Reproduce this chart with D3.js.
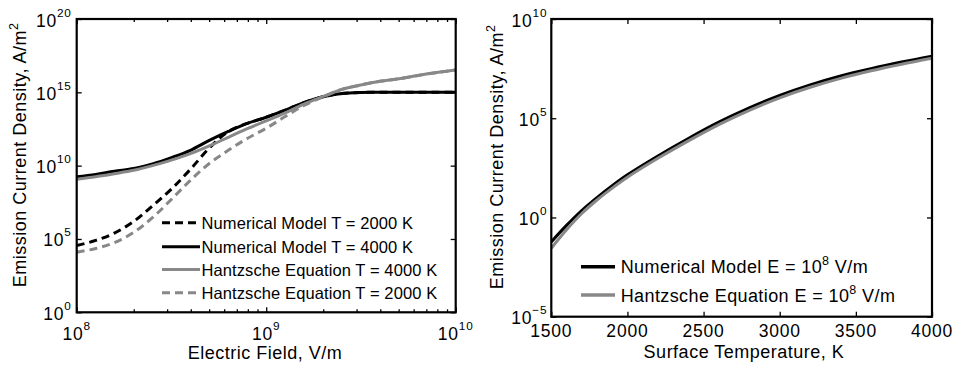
<!DOCTYPE html>
<html><head><meta charset="utf-8">
<script src="https://cdn.jsdelivr.net/npm/d3@7"></script>
<style>
body{margin:0;background:#fff;}
text{font-family:Arial,"Liberation Sans",Helvetica,sans-serif;fill:#000;}
</style>
</head><body>
<svg id="chart" width="956" height="366"></svg>
<script>
// ---------- Left panel data: emission current density vs electric field ----------
const fieldValues = [1e8, 1.26e8, 1.58e8, 2e8, 2.51e8, 3.16e8, 3.98e8, 5.01e8, 6.31e8, 7.94e8,
  1e9, 1.26e9, 1.58e9, 2e9, 2.51e9, 3.16e9, 3.98e9, 5.01e9, 6.31e9, 7.94e9, 1e10];
const numerical2000 = [3.55e4, 7.94e4, 2.51e5, 1.58e6, 1.78e7, 2.51e8, 5.62e9, 1.58e11, 2.14e12, 7.59e12,
  2.0e13, 6.03e13, 2.0e14, 5.0e14, 8.3e14, 9.8e14, 1e15, 1e15, 1e15, 1e15, 1e15];
const numerical4000 = [1.74e9, 2.51e9, 4.17e9, 6.31e9, 1.32e10, 3.55e10, 1.12e11, 5.25e11, 2.14e12, 7.59e12,
  2.0e13, 6.03e13, 2.0e14, 5.0e14, 8.3e14, 9.8e14, 1e15, 1e15, 1e15, 1e15, 1e15];
const hantzsche4000 = [1.2e9, 1.78e9, 2.82e9, 4.79e9, 1.0e10, 2.4e10, 6.61e10, 2.24e11, 8.51e11, 3.31e12,
  1.12e13, 3.98e13, 1.58e14, 5.25e14, 1.58e15, 3.16e15, 5.62e15, 8.32e15, 1.41e16, 2.24e16, 3.31e16];
const hantzsche2000 = [1.26e4, 2.24e4, 5.62e4, 2.82e5, 2.82e6, 5.01e7, 1.0e9, 1.41e10, 1.12e11, 7.08e11,
  3.55e12, 2.24e13, 1.26e14, 5.01e14, 1.58e15, 3.16e15, 5.62e15, 8.32e15, 1.41e16, 2.24e16, 3.31e16];

// ---------- Right panel data: emission current density vs surface temperature ----------
const temperatures = [1500, 1600, 1700, 1800, 1900, 2000, 2200, 2400, 2600, 2800, 3000, 3200, 3400, 3600, 3800, 4000];
const numericalE8 = [5.89e-2, 3.98e-1, 2.24, 10, 39.8, 141, 1.26e3, 9.55e3, 6.31e4, 3.31e5, 1.41e6, 4.79e6, 1.35e7, 3.16e7, 6.76e7, 1.35e8];
const hantzscheE8 = [2.82e-2, 2.40e-1, 1.58, 7.59, 30.2, 107, 955, 7.24e3, 4.79e4, 2.51e5, 1.07e6, 3.63e6, 1.02e7, 2.45e7, 5.25e7, 1.05e8];

// ---------- Ticks ----------
const fieldTicks = [1e8, 1e9, 1e10];
const fieldTickExps = ["8", "9", "10"];
const fieldMinorTicks = [2e8,3e8,4e8,5e8,6e8,7e8,8e8,9e8,2e9,3e9,4e9,5e9,6e9,7e9,8e9,9e9];
const leftDensityTicks = [1e0, 1e5, 1e10, 1e15, 1e20];
const leftDensityExps = ["0", "5", "10", "15", "20"];
const tempTicks = [1500, 2000, 2500, 3000, 3500, 4000];
const rightDensityTicks = [1e-5, 1e0, 1e5, 1e10];
const rightDensityExps = ["\u22125", "0", "5", "10"];

// ---------- Legends ----------
const leftLegend = [
  {label: "Numerical Model T = 2000 K", color: "#000", dash: "8,5"},
  {label: "Numerical Model T = 4000 K", color: "#000", dash: null},
  {label: "Hantzsche Equation T = 4000 K", color: "#888", dash: null},
  {label: "Hantzsche Equation T = 2000 K", color: "#888", dash: "8,5"}
];
const rightLegend = [
  {label: "Numerical Model E = 10", color: "#000"},
  {label: "Hantzsche Equation E = 10", color: "#888"}
];

const svg = d3.select("#chart");
const GRAY = "#888";
const TICK_FS = 17.5, EXP_FS = 11.8, TITLE_FS = 18, LEG_FS = 16.5, RLEG_FS = 18;

function panel(cfg) {
  const g = svg.append("g");
  const {x, y} = cfg;
  const [x0, x1] = x.range(), [y0, y1] = y.range();
  const clipId = cfg.id + "clip";
  g.append("clipPath").attr("id", clipId).append("rect")
    .attr("x", x0).attr("y", y1).attr("width", x1 - x0).attr("height", y0 - y1);
  const lines = g.append("g").attr("clip-path", `url(#${clipId})`);
  cfg.series.forEach(s => {
    const line = d3.line().x((d, i) => x(cfg.xs[i])).y(d => y(d)).curve(d3.curveCatmullRom.alpha(0.5));
    lines.append("path").attr("d", line(s.values)).attr("fill", "none")
      .attr("stroke", s.color).attr("stroke-width", 3)
      .attr("stroke-dasharray", s.dash || null).attr("stroke-linejoin", "round");
  });
  const addAxis = (axis, tx, ty) => {
    const a = g.append("g").attr("transform", `translate(${tx},${ty})`).call(axis);
    a.select(".domain").remove();
    a.selectAll("line").attr("stroke", "#000").attr("stroke-width", 1.3);
  };
  addAxis(d3.axisBottom(x).tickValues(cfg.xTicks).tickSize(-5).tickFormat(""), 0, y0);
  addAxis(d3.axisTop(x).tickValues(cfg.xTicks).tickSize(-5).tickFormat(""), 0, y1);
  if (cfg.xMinor) {
    addAxis(d3.axisBottom(x).tickValues(cfg.xMinor).tickSize(-3).tickFormat(""), 0, y0);
    addAxis(d3.axisTop(x).tickValues(cfg.xMinor).tickSize(-3).tickFormat(""), 0, y1);
  }
  addAxis(d3.axisLeft(y).tickValues(cfg.yTicks).tickSize(-5).tickFormat(""), x0, 0);
  addAxis(d3.axisRight(y).tickValues(cfg.yTicks).tickSize(-5).tickFormat(""), x1, 0);
  g.append("rect").attr("x", x0).attr("y", y1).attr("width", x1 - x0).attr("height", y0 - y1)
    .attr("fill", "none").attr("stroke", "#000").attr("stroke-width", 2.2);
  cfg.xTicks.forEach((v, i) => {
    const t = g.append("text").attr("x", x(v)).attr("y", cfg.xLabelY).attr("text-anchor", "middle")
      .attr("font-size", TICK_FS).attr("letter-spacing", 0.8);
    if (cfg.xExps) {
      t.append("tspan").text("10");
      t.append("tspan").attr("dy", -9.5).attr("font-size", EXP_FS).text(cfg.xExps[i]);
    } else t.text(v);
  });
  cfg.yTicks.forEach((v, i) => {
    const t = g.append("text").attr("x", x0 - cfg.yLabelGap).attr("y", y(v) + 7.5)
      .attr("text-anchor", "end").attr("font-size", TICK_FS).attr("letter-spacing", 0.8);
    t.append("tspan").text("10");
    t.append("tspan").attr("dy", -10).attr("font-size", EXP_FS).text(cfg.yExps[i]);
  });
  g.append("text").attr("x", cfg.xTitleX).attr("y", cfg.xTitleY).attr("text-anchor", "middle")
    .attr("font-size", TITLE_FS).attr("letter-spacing", 0.5).text(cfg.xTitle);
  const yt = g.append("text").attr("transform", `translate(${cfg.yTitleX},${cfg.yTitleY}) rotate(-90)`)
    .attr("text-anchor", "middle").attr("font-size", TITLE_FS).attr("letter-spacing", 0.5);
  yt.append("tspan").text("Emission Current Density, A/m");
  yt.append("tspan").attr("dy", -8).attr("font-size", 12.5).text("2");
  return g;
}

const xL = d3.scaleLog().domain([1e8, 1e10]).range([76.7, 455.7]);
const yL = d3.scaleLog().domain([1, 1e20]).range([312.3, 19]);
const gL = panel({
  id: "L", x: xL, y: yL, xs: fieldValues,
  series: [
    {values: numerical2000, color: "#000", dash: "8,5"},
    {values: numerical4000, color: "#000"},
    {values: hantzsche4000, color: GRAY},
    {values: hantzsche2000, color: GRAY, dash: "8,5"}
  ],
  xTicks: fieldTicks, xExps: fieldTickExps, xMinor: fieldMinorTicks,
  yTicks: leftDensityTicks, yExps: leftDensityExps,
  xLabelY: 339.5, yLabelGap: 5,
  xTitle: "Electric Field, V/m", xTitleX: 265, xTitleY: 358.5,
  yTitleX: 26, yTitleY: 155
});
leftLegend.forEach((d, i) => {
  const yy = [222.7, 246.7, 269.5, 292.7][i];
  gL.append("line").attr("x1", 162).attr("x2", 200).attr("y1", yy).attr("y2", yy)
    .attr("stroke", d.color).attr("stroke-width", 3).attr("stroke-dasharray", d.dash);
  gL.append("text").attr("x", 201.5).attr("y", yy + 6).attr("font-size", LEG_FS)
    .attr("letter-spacing", 0.1).text(d.label);
});

const xR = d3.scaleLinear().domain([1500, 4000]).range([551.3, 932]);
const yR = d3.scaleLog().domain([1e-5, 1e10]).range([316.7, 19]);
const gR = panel({
  id: "R", x: xR, y: yR, xs: temperatures,
  series: [
    {values: numericalE8, color: "#000"},
    {values: hantzscheE8, color: GRAY}
  ],
  xTicks: tempTicks, xExps: null, xMinor: null,
  yTicks: rightDensityTicks, yExps: rightDensityExps,
  xLabelY: 337, yLabelGap: 4,
  xTitle: "Surface Temperature, K", xTitleX: 744, xTitleY: 358,
  yTitleX: 503, yTitleY: 157
});
rightLegend.forEach((d, i) => {
  const yy = [266.7, 295][i];
  gR.append("line").attr("x1", 581).attr("x2", 615).attr("y1", yy).attr("y2", yy)
    .attr("stroke", d.color).attr("stroke-width", 3.5);
  const t = gR.append("text").attr("x", 620.7).attr("y", yy + 6.5).attr("font-size", RLEG_FS)
    .attr("letter-spacing", 0.4);
  t.append("tspan").text(d.label);
  t.append("tspan").attr("dy", -8).attr("font-size", 12.5).text("8");
  t.append("tspan").attr("dy", 8).text(" V/m");
});
</script>
</body></html>
